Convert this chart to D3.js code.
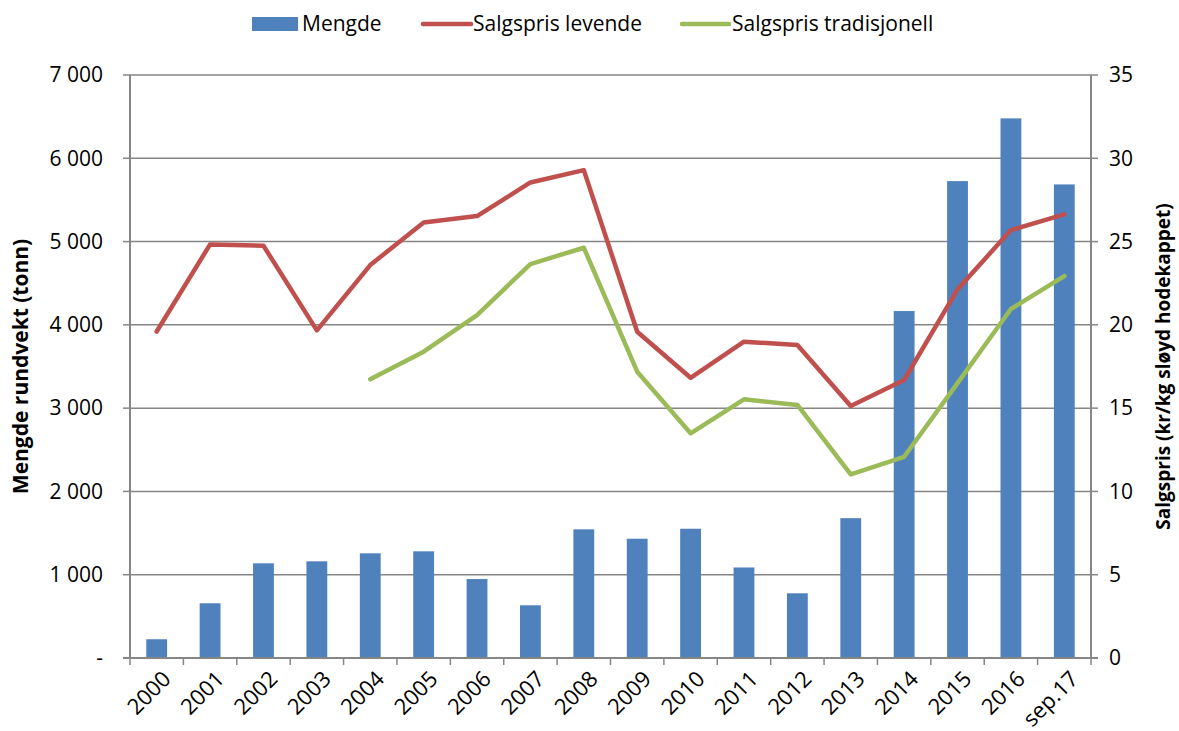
<!DOCTYPE html>
<html lang="no">
<head>
<meta charset="utf-8" />
<style>
  body { margin: 0; background: #fff; }
  svg text { font-family: "Open Sans", "Noto Sans", sans-serif; fill: #000; }
  .tick-label { font-size: 21px; }
  .x-label { font-size: 22px; }
  .axis-title { font-weight: bold; }
  .legend-label { font-size: 21px; }
</style>
</head>
<body>
<script src="https://cdn.jsdelivr.net/npm/d3@7"></script>
<script>
// data
var years = ["2000","2001","2002","2003","2004","2005","2006","2007","2008",
             "2009","2010","2011","2012","2013","2014","2015","2016","sep.17"];
var mengde = [225, 657, 1137, 1161, 1257, 1281, 948, 633, 1545,
              1432, 1552, 1087, 777, 1679, 4166, 5726, 6479, 5686];
var prisLevende = [19.6, 24.83, 24.75, 19.67, 23.59, 26.15, 26.53, 28.55, 29.29,
                   19.59, 16.82, 18.99, 18.79, 15.13, 16.69, 22.13, 25.69, 26.63];
var prisTradisjonell = [null, null, null, null, 16.73, 18.39, 20.59, 23.65, 24.63,
                        17.19, 13.49, 15.53, 15.19, 11.03, 12.08, 16.5, 20.95, 22.93];
var leftTicks = [0, 1000, 2000, 3000, 4000, 5000, 6000, 7000];
var rightTicks = [0, 5, 10, 15, 20, 25, 30, 35];
var legendNames = ["Mengde", "Salgspris levende", "Salgspris tradisjonell"];

var width = 1179, height = 731;
var pLeft = 130, pRight = 1091, pTop = 75, pBottom = 658;
var grid = "#868686";
var blue = "#4F81BD", red = "#C0504D", green = "#9BBB59";

var svg = d3.select("body").append("svg")
    .attr("width", width)
    .attr("height", height);

var xb = d3.scaleBand().domain(years).range([pLeft, pRight]).padding(0);
var barW = xb.bandwidth() * 0.39;
var yL = d3.scaleLinear().domain([0, 7000]).range([pBottom, pTop]);
var yR = d3.scaleLinear().domain([0, 35]).range([pBottom, pTop]);
var cx = function (d) { return xb(d) + xb.bandwidth() / 2; };

// gridlines
svg.append("g").selectAll("line")
    .data(leftTicks.filter(function (d) { return d > 0; }))
  .enter().append("line")
    .attr("x1", pLeft).attr("x2", pRight)
    .attr("y1", function (d) { return yL(d); })
    .attr("y2", function (d) { return yL(d); })
    .attr("stroke", grid).attr("stroke-width", 1.5);

// bars
svg.append("g").selectAll("rect")
    .data(years)
  .enter().append("rect")
    .attr("x", function (d) { return cx(d) - barW / 2; })
    .attr("y", function (d, i) { return yL(mengde[i]); })
    .attr("width", barW)
    .attr("height", function (d, i) { return pBottom - yL(mengde[i]); })
    .attr("fill", blue);

// axis lines
svg.append("line").attr("x1", pLeft).attr("x2", pLeft).attr("y1", pTop).attr("y2", pBottom)
    .attr("stroke", grid).attr("stroke-width", 2);
svg.append("line").attr("x1", pRight).attr("x2", pRight).attr("y1", pTop).attr("y2", pBottom)
    .attr("stroke", grid).attr("stroke-width", 2);
svg.append("line").attr("x1", pLeft - 7).attr("x2", pRight + 7).attr("y1", pBottom).attr("y2", pBottom)
    .attr("stroke", grid).attr("stroke-width", 2);

// left ticks + labels
var fmt = function (d) {
    return d === 0 ? "-" : d3.format(",")(d).replace(",", "\u00a0");
};
var gl = svg.append("g");
gl.selectAll("line").data(leftTicks).enter().append("line")
    .attr("x1", pLeft - 7).attr("x2", pLeft)
    .attr("y1", function (d) { return yL(d); })
    .attr("y2", function (d) { return yL(d); })
    .attr("stroke", grid).attr("stroke-width", 1.5);
gl.selectAll("text").data(leftTicks).enter().append("text")
    .attr("class", "tick-label")
    .attr("x", 103).attr("y", function (d) { return yL(d); })
    .attr("dy", "0.35em")
    .attr("text-anchor", "end")
    .text(fmt);

// right ticks + labels
var gr = svg.append("g");
gr.selectAll("line").data(rightTicks).enter().append("line")
    .attr("x1", pRight).attr("x2", pRight + 7)
    .attr("y1", function (d) { return yR(d); })
    .attr("y2", function (d) { return yR(d); })
    .attr("stroke", grid).attr("stroke-width", 1.5);
gr.selectAll("text").data(rightTicks).enter().append("text")
    .attr("class", "tick-label")
    .attr("x", 1109).attr("y", function (d) { return yR(d); })
    .attr("dy", "0.35em")
    .text(function (d) { return d; });

// x ticks at category boundaries
var bounds = years.map(function (d) { return xb(d); }).concat([pRight]);
svg.append("g").selectAll("line").data(bounds).enter().append("line")
    .attr("x1", function (d) { return d; }).attr("x2", function (d) { return d; })
    .attr("y1", pBottom).attr("y2", pBottom + 7)
    .attr("stroke", grid).attr("stroke-width", 1.5);

svg.append("g").selectAll("text").data(years).enter().append("text")
    .attr("class", "x-label")
    .attr("text-anchor", "end")
    .attr("transform", function (d) {
        return "translate(" + (cx(d) + 10) + "," + (pBottom + 17) + ") rotate(-45)";
    })
    .attr("dy", "0.35em")
    .text(function (d) { return d; });

// price lines
var line = function (vals) {
    return d3.line()
        .defined(function (d, i) { return vals[i] != null; })
        .x(function (d) { return cx(d); })
        .y(function (d, i) { return yR(vals[i]); })(years);
};
svg.append("path").attr("d", line(prisLevende))
    .attr("fill", "none").attr("stroke", red).attr("stroke-width", 4.5)
    .attr("stroke-linejoin", "round").attr("stroke-linecap", "round");
svg.append("path").attr("d", line(prisTradisjonell))
    .attr("fill", "none").attr("stroke", green).attr("stroke-width", 4.5)
    .attr("stroke-linejoin", "round").attr("stroke-linecap", "round");

// axis titles
svg.append("text").attr("class", "axis-title")
    .attr("transform", "translate(28," + ((pTop + pBottom) / 2) + ") rotate(-90)")
    .attr("text-anchor", "middle")
    .style("font-size", "21px")
    .text("Mengde rundvekt (tonn)");
svg.append("text").attr("class", "axis-title")
    .attr("transform", "translate(1170," + ((pTop + pBottom) / 2) + ") rotate(-90)")
    .attr("text-anchor", "middle")
    .style("font-size", "19px")
    .text("Salgspris (kr/kg sløyd hodekappet)");

// legend
var lg = svg.append("g");
lg.append("rect").attr("x", 252).attr("y", 17).attr("width", 46).attr("height", 14).attr("fill", blue);
lg.append("text").attr("class", "legend-label").attr("x", 302).attr("y", 24).attr("dy", "0.35em").text(legendNames[0]);
lg.append("line").attr("x1", 423).attr("x2", 471).attr("y1", 24).attr("y2", 24)
    .attr("stroke", red).attr("stroke-width", 4.5).attr("stroke-linecap", "round");
lg.append("text").attr("class", "legend-label").attr("x", 473).attr("y", 24).attr("dy", "0.35em").text(legendNames[1]);
lg.append("line").attr("x1", 682).attr("x2", 729).attr("y1", 24).attr("y2", 24)
    .attr("stroke", green).attr("stroke-width", 4.5).attr("stroke-linecap", "round");
lg.append("text").attr("class", "legend-label").attr("x", 732).attr("y", 24).attr("dy", "0.35em").text(legendNames[2]);
</script>
</body>
</html>
